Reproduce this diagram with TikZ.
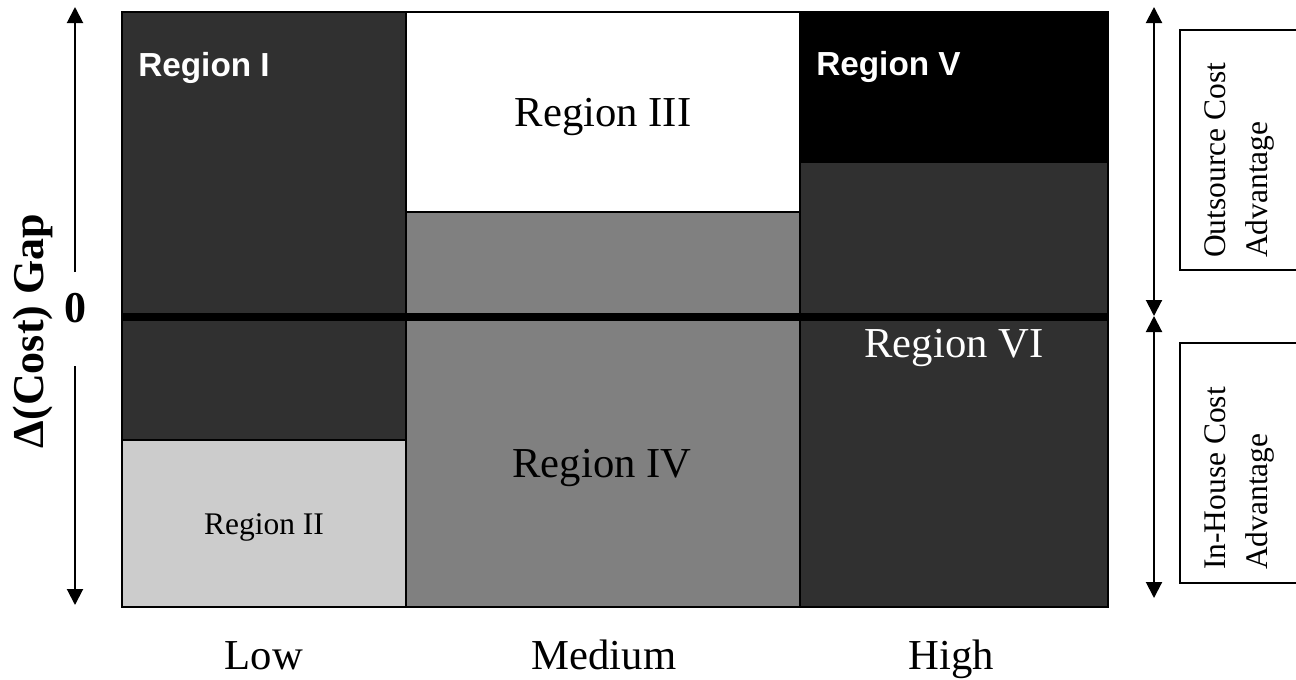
\documentclass[tikz,border=0pt]{standalone}
\usepackage{fontspec}
\setmainfont{Liberation Serif}
\setsansfont{Liberation Sans}
\usetikzlibrary{arrows.meta}
\definecolor{RegDark}{RGB}{48,48,48}
\definecolor{RegMid}{RGB}{128,128,128}
\definecolor{RegLight}{RGB}{204,204,204}
\tikzset{edge/.style={draw=black,line width=1.5pt}, thin edge/.style={draw=black,line width=1.2pt}, big/.style={inner sep=0pt,font=\fontsize{32}{38}\selectfont}, small/.style={inner sep=0pt,font=\fontsize{23.6}{31.5}\selectfont}, tag/.style={inner sep=0pt,text=white,font=\sffamily\bfseries\fontsize{25}{30}\selectfont}, axis/.style={line width=1.5pt,-{Triangle[length=12pt,width=12pt]}}, twoway/.style={line width=1.5pt,{Triangle[length=12pt,width=12pt]}-{Triangle[length=12pt,width=12pt]}}}

\begin{document}
\begin{tikzpicture}[x=0.75pt,y=-0.75pt]
\useasboundingbox (0,0) rectangle (1296,679);
\fill[RegDark] (122,12) rectangle (406,440);
\fill[RegLight] (122,440) rectangle (406,607);
\fill[white] (406,12) rectangle (800,212);
\fill[RegMid] (406,212) rectangle (800,607);
\fill[black] (800,12) rectangle (1108,163);
\fill[RegDark] (800,163) rectangle (1108,607);
\draw[edge] (122,12) rectangle (1108,607);
\draw[edge] (406,12) -- (406,607);
\draw[edge] (800,12) -- (800,607);
\draw[edge] (122,440) -- (406,440);
\draw[edge] (406,212) -- (800,212);
\draw[line width=6pt] (122,317) -- (1108,317);
% axis arrows
\coordinate (lt) at (75,7);
\coordinate (lu) at (75,272);
\coordinate (ld) at (75,366);
\coordinate (lb) at (75,605);
\coordinate (rt) at (1154,7);
\coordinate (rm) at (1154,316);
\coordinate (rb) at (1154,598);
\draw[axis] (lu)--(lt);
\draw[axis] (ld)--(lb);
\draw[twoway] (rm)--(rt);
\draw[twoway] (rm)--(rb);
% side boxes
\draw[thin edge] (1296,30) -- (1180,30) -- (1180,270) -- (1296,270);
\draw[thin edge] (1296,343) -- (1180,343) -- (1180,583) -- (1296,583);
\node[small,rotate=90,anchor=west,align=left] (outs) at (1239,258) {Outsource Cost\\Advantage};
\node[small,rotate=90,anchor=west,align=left] (inhs) at (1239,570) {In-House Cost\\Advantage};
% labels
\node[tag,anchor=base west] (r1) at (138,76) {Region I};
\node[small,anchor=base] (r2) at (264,534) {Region II};
\node[big,anchor=base] (r3) at (603,126) {Region III};
\node[big,anchor=base] (r4) at (602,477) {Region IV};
\node[tag,anchor=base west] (r5) at (816,75) {Region V};
\node[big,anchor=base,text=white] (r6) at (954,357) {Region VI};
\node[big,anchor=base] (low) at (264,669) {Low};
\node[big,anchor=base] (med) at (604,669) {Medium};
\node[big,anchor=base] (high) at (951,669) {High};
\node[inner sep=0pt,anchor=base,font=\bfseries\fontsize{33}{40}\selectfont] (zero) at (75,322) {0};
\node[inner sep=0pt,anchor=base,rotate=90,font=\bfseries\fontsize{33}{40}\selectfont] (ylab) at (43,331) {Δ(Cost) Gap};
\end{tikzpicture}
\end{document}
